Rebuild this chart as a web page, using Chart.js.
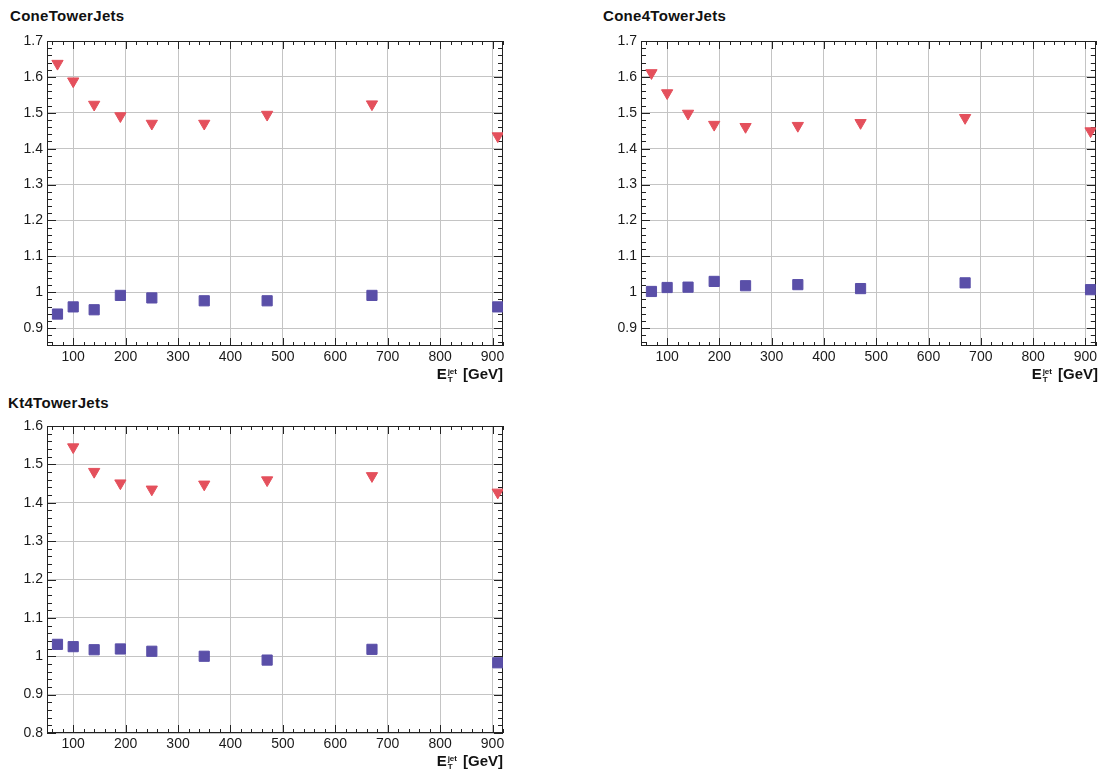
<!DOCTYPE html>
<html>
<head>
<meta charset="utf-8">
<title>Tower jets response vs E_T</title>
<script src="https://cdn.jsdelivr.net/npm/chart.js@4.4.1/dist/chart.umd.min.js"></script>
<style>
  body { margin: 0; background: #fff; }
  #page { position: relative; width: 1104px; height: 771px; overflow: hidden;
          font-family: 'Liberation Sans', Arial, sans-serif; color: #111; }
  canvas { position: absolute; }
  .ptitle { position: absolute; font-weight: bold; font-size: 15px; line-height: 15px;
            letter-spacing: 0.3px; white-space: nowrap; }
  .xtitle { position: absolute; font-weight: bold; font-size: 15px; line-height: 15px; white-space: nowrap; }
  .xtitle .ss { display: inline-block; vertical-align: -3px; font-size: 8px; line-height: 8px; margin: 0 6px 0 1px; }
  .xtitle .ss span { display: block; }
</style>
</head>
<body>
<div id="page">
  <div class="ptitle" style="left:10px;top:8px">ConeTowerJets</div>
  <div class="ptitle" style="left:603px;top:8px">Cone4TowerJets</div>
  <div class="ptitle" style="left:8px;top:395px">Kt4TowerJets</div>

  <canvas id="cone" width="520" height="390" style="left:0;top:0"></canvas>
  <canvas id="cone4" width="544" height="390" style="left:560px;top:0"></canvas>
  <canvas id="kt4" width="520" height="386" style="left:0;top:385px"></canvas>

  <div class="xtitle" style="right:601px;top:366px">E<span class="ss"><span>jet</span><span>T</span></span>[GeV]</div>
  <div class="xtitle" style="right:6px;top:366px">E<span class="ss"><span>jet</span><span>T</span></span>[GeV]</div>
  <div class="xtitle" style="right:601px;top:753px">E<span class="ss"><span>jet</span><span>T</span></span>[GeV]</div>
</div>

<script>
// jet E_T bin centres (GeV)
const etJet = [70, 100, 140, 190, 250, 350, 470, 670, 910];
const xTickValues = [100, 200, 300, 400, 500, 600, 700, 800, 900];
const yTicksCone = [0.9, 1.0, 1.1, 1.2, 1.3, 1.4, 1.5, 1.6, 1.7];
const yTicksKt = [0.8, 0.9, 1.0, 1.1, 1.2, 1.3, 1.4, 1.5, 1.6];

// ConeTowerJets
const coneRed  = [1.637, 1.588, 1.523, 1.491, 1.470, 1.470, 1.495, 1.524, 1.435];
const coneBlue = [0.939, 0.959, 0.951, 0.991, 0.984, 0.976, 0.976, 0.991, 0.959];
// Cone4TowerJets
const cone4Red  = [1.611, 1.555, 1.498, 1.467, 1.461, 1.464, 1.472, 1.486, 1.449];
const cone4Blue = [1.002, 1.013, 1.014, 1.030, 1.018, 1.021, 1.010, 1.026, 1.007];
// Kt4TowerJets (no red point in the first bin)
const kt4Red  = [null, 1.545, 1.481, 1.451, 1.435, 1.448, 1.459, 1.470, 1.427];
const kt4Blue = [1.031, 1.025, 1.017, 1.019, 1.013, 1.000, 0.990, 1.018, 0.983];

const RED = '#e4505c';
const BLUE = '#5a4fa8';

Chart.defaults.font.family = "'Liberation Sans', Arial, sans-serif";
Chart.defaults.color = '#1a1a1a';

// ROOT-like frame with inward ticks on all four sides
const rootFrame = {
  id: 'rootFrame',
  beforeDatasetsDraw(chart) {
    const { ctx, chartArea: a, scales: { x, y } } = chart;
    ctx.save();
    ctx.strokeStyle = '#222';
    ctx.lineWidth = 1;
    ctx.beginPath();
    for (let v = 60; v <= x.max; v += 20) {
      const len = v % 100 === 0 ? 8 : 4;
      const px = Math.round(x.getPixelForValue(v)) + 0.5;
      ctx.moveTo(px, a.bottom); ctx.lineTo(px, a.bottom - len);
      ctx.moveTo(px, a.top); ctx.lineTo(px, a.top + len);
    }
    for (let k = Math.ceil(y.min * 50 - 1e-6); k <= Math.floor(y.max * 50 + 1e-6); k++) {
      const len = k % 5 === 0 ? 9 : 5;
      const py = Math.round(y.getPixelForValue(k / 50)) + 0.5;
      ctx.moveTo(a.left, py); ctx.lineTo(a.left + len, py);
      ctx.moveTo(a.right, py); ctx.lineTo(a.right - len, py);
    }
    ctx.stroke();
    ctx.strokeRect(Math.round(a.left) + 0.5, Math.round(a.top) + 0.5,
                   Math.round(a.width) - 1, Math.round(a.height) - 1);
    ctx.restore();
  }
};

function points(vals) {
  return etJet.map((x, i) => ({ x: x, y: vals[i] })).filter(p => p.y !== null);
}

function makePanel(id, red, blue, yMin, yMax, yTicks, padding) {
  return new Chart(document.getElementById(id), {
    type: 'scatter',
    data: {
      datasets: [
        {
          label: 'red',
          data: points(red),
          pointStyle: 'triangle',
          rotation: 180,
          pointRadius: 6.5,
          backgroundColor: RED,
          borderColor: RED,
          borderWidth: 1,
        },
        {
          label: 'blue',
          data: points(blue),
          pointStyle: 'rect',
          pointRadius: 7.2,
          backgroundColor: BLUE,
          borderColor: BLUE,
          borderWidth: 1,
        }
      ]
    },
    options: {
      responsive: false,
      animation: false,
      layout: { padding: padding },
      plugins: { legend: { display: false }, tooltip: { enabled: false } },
      scales: {
        x: {
          type: 'linear', min: 50, max: 920,
          afterBuildTicks: s => { s.ticks = xTickValues.map(v => ({ value: v })); },
          afterFit: s => { s.height = 30; },
          grid: { color: '#c4c4c4', drawTicks: false },
          border: { display: false },
          ticks: { autoSkip: false, maxRotation: 0, padding: 3,
                   font: { size: 14 }, callback: v => String(v) }
        },
        y: {
          type: 'linear', min: yMin, max: yMax,
          afterBuildTicks: s => { s.ticks = yTicks.map(v => ({ value: v })); },
          afterFit: s => { s.width = 39; },
          grid: { color: '#c4c4c4', drawTicks: false },
          border: { display: false },
          ticks: { padding: 4, font: { size: 14 },
                   callback: v => String(Math.round(v * 10) / 10) }
        }
      }
    },
    plugins: [rootFrame]
  });
}

makePanel('cone', coneRed, coneBlue, 0.85, 1.7, yTicksCone,
          { left: 8, right: 17, top: 41, bottom: 14 });
makePanel('cone4', cone4Red, cone4Blue, 0.85, 1.7, yTicksCone,
          { left: 42, right: 6, top: 41, bottom: 14 });
makePanel('kt4', kt4Red, kt4Blue, 0.8, 1.6, yTicksKt,
          { left: 8, right: 17, top: 41, bottom: 8 });
</script>
</body>
</html>
